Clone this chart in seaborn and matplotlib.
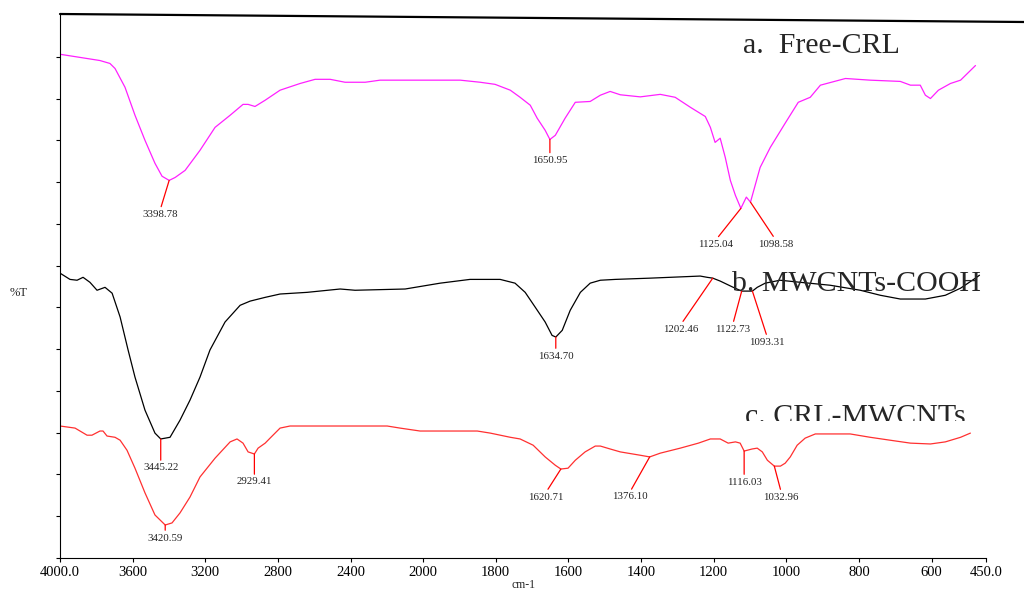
import numpy as np
import matplotlib
matplotlib.use("Agg")
import matplotlib.pyplot as plt
from matplotlib.lines import Line2D
from matplotlib.transforms import Bbox
import seaborn as sns

# a. Free-CRL  (wavenumber cm-1, %T)
wn_a = [4000, 3780, 3725, 3697, 3642, 3587, 3532, 3477, 3438, 3398.78,
        3366, 3311, 3229, 3146, 3063, 2992, 2964, 2926, 2870, 2788,
        2678, 2595, 2512, 2430, 2319, 2237, 2127, 1898, 1843, 1802,
        1760, 1733, 1705, 1686, 1664, 1650.95, 1636, 1609, 1581, 1540,
        1512, 1485, 1457, 1402, 1347, 1306, 1264, 1223, 1209, 1196,
        1182, 1168, 1154, 1140, 1125.04, 1110, 1098.58, 1072, 1044, 1003,
        967, 934, 906, 837, 769, 686, 658, 631, 617, 603,
        581, 548, 520, 479]
t_a = [120.6, 119.1, 118.4, 117.2, 112.7, 106.0, 100.0, 94.5, 91.4, 90.4,
       91.1, 92.8, 97.6, 103.1, 106.0, 108.6, 108.6, 108.1, 109.6, 112.0,
       113.6, 114.6, 114.6, 113.9, 113.9, 114.4, 114.4, 114.4, 113.9, 113.4,
       112.0, 110.3, 108.4, 105.3, 102.4, 100.2, 101.2, 105.3, 109.1, 109.3,
       110.8, 111.7, 110.9, 110.4, 111.0, 110.3, 107.9, 105.7, 103.1, 99.5,
       100.5, 95.9, 90.4, 86.8, 83.7, 86.4, 85.2, 93.5, 98.3, 104.1,
       109.1, 110.3, 113.2, 114.8, 114.4, 114.1, 113.2, 113.2, 110.8, 110.0,
       112.0, 113.6, 114.4, 117.9]
peaks_a = [3398.78, 1650.95, 1125.04, 1098.58]

# b. MWCNTs-COOH
wn_b = [4000, 3945, 3906, 3873, 3835, 3796, 3752, 3713, 3669, 3625,
        3587, 3532, 3477, 3445.22, 3394, 3339, 3284, 3229, 3174, 3091,
        3008, 2953, 2870, 2788, 2639, 2457, 2375, 2099, 2044, 1953,
        1871, 1788, 1747, 1719, 1691, 1664, 1645, 1634.70, 1617, 1595,
        1567, 1540, 1512, 1471, 1375, 1237, 1218, 1202.46, 1182, 1146,
        1122.73, 1093.31, 1080, 1058, 1017, 961, 879, 796, 741, 686,
        617, 562, 520, 479, 468]
t_b = [68.2, 66.7, 66.5, 67.2, 66.0, 64.1, 64.8, 63.4, 57.7, 49.8,
       43.3, 35.4, 29.9, 28.5, 28.9, 33.0, 37.8, 43.3, 49.8, 56.5,
       60.5, 61.5, 62.4, 63.2, 63.6, 64.4, 64.1, 64.4, 64.8, 65.8,
       66.7, 66.7, 65.8, 63.6, 60.0, 56.5, 53.3, 52.9, 54.5, 59.3,
       63.6, 65.8, 66.5, 66.7, 67.0, 67.5, 67.2, 67.0, 66.3, 64.8,
       63.9, 63.9, 64.8, 65.8, 66.5, 66.0, 65.3, 64.1, 62.9, 62.0,
       62.0, 62.9, 64.6, 67.0, 67.7]
peaks_b = [3445.22, 1634.70, 1202.46, 1122.73, 1093.31]

# c. CRL-MWCNTs
wn_c = [4000, 3917, 3851, 3824, 3780, 3763, 3741, 3697, 3669, 3631,
        3587, 3532, 3477, 3420.59, 3383, 3339, 3284, 3229, 3146, 3063,
        3025, 2992, 2964, 2929.41, 2909, 2870, 2843, 2788, 2733, 2198,
        2127, 2017, 1851, 1815, 1760, 1733, 1697, 1664, 1636, 1620.71,
        1601, 1581, 1554, 1526, 1512, 1485, 1457, 1402, 1376.10, 1347,
        1292, 1242, 1209, 1182, 1160, 1140, 1127, 1116.03, 1094, 1080,
        1066, 1052, 1032.96, 1016, 1003, 989, 970, 948, 920, 879,
        824, 769, 714, 658, 603, 562, 520, 493]
t_c = [31.6, 31.1, 29.4, 29.4, 30.4, 30.4, 29.2, 28.9, 28.2, 25.8,
       21.5, 15.6, 10.3, 7.9, 8.4, 10.8, 14.6, 19.4, 23.9, 27.8,
       28.5, 27.5, 25.4, 24.9, 26.3, 27.5, 28.7, 31.1, 31.6, 31.6,
       31.1, 30.4, 30.4, 29.9, 28.9, 28.5, 27.0, 24.2, 22.2, 21.3,
       21.5, 23.4, 25.4, 26.8, 26.8, 26.1, 25.4, 24.6, 24.2, 25.1,
       26.3, 27.5, 28.5, 28.5, 27.5, 27.8, 27.5, 25.6, 26.1, 26.3,
       25.4, 23.4, 22.0, 22.0, 22.7, 24.2, 27.0, 28.7, 29.7, 29.7,
       29.7, 28.9, 28.2, 27.5, 27.3, 27.8, 28.9, 29.9]
peaks_c = [3420.59, 2929.41, 1620.71, 1376.10, 1116.03, 1032.96]

xticks = [4000, 3600, 3200, 2800, 2400, 2000, 1800, 1600, 1400, 1200, 1000, 800, 600, 450]
xtick_labels = ["4000.0", "3600", "3200", "2800", "2400", "2000", "1800", "1600",
                "1400", "1200", "1000", "800", "600", "450.0"]

# label placement (pixel offsets of label centre from the peak)
offs_a = [(-9, -34), (0, -21), (-25, -36), (25, -42)]
offs_b = [(0, -29), (0, -19), (-32, -51), (-9, -38), (15, -51)]
offs_c = [(0, -13), (0, -28), (-15, -28), (-20, -40), (0, -31), (7, -31)]

sns.set_theme(style="ticks")
plt.rcParams["font.family"] = ["Liberation Serif", "DejaVu Serif"]


# FTIR axis: 400 cm-1 per division above 2000, 200 below
def fwd(x):
    x = np.asarray(x, dtype=float)
    return np.where(x >= 2000, 5 + (x - 2000) / 400, x / 200 - 5)


def inv(u):
    u = np.asarray(u, dtype=float)
    return np.where(u >= 5, 2000 + (u - 5) * 400, (u + 5) * 200)


fig = plt.figure(figsize=(10.24, 5.92), dpi=100)
ax = fig.add_axes([60 / 1024, 1 - 558 / 592, 926 / 1024, 543 / 592])
ax.set_xscale("function", functions=(fwd, inv))

fig.text(743 / 1024, 1 - 53 / 592, "a.  Free-CRL", fontsize=21.5, va="baseline")
fig.text(732 / 1024, 1 - 291 / 592, "b. MWCNTs-COOH", fontsize=21.5, va="baseline")
tc = fig.text(745 / 1024, 1 - 424 / 592, "c. CRL-MWCNTs", fontsize=21.5, va="baseline")
tc.set_clip_box(Bbox([[0, 592 - 421], [1024, 592]]))
tc.set_clip_on(True)

series = [(wn_a, t_a, peaks_a, offs_a, "#ff20ff"),
          (wn_b, t_b, peaks_b, offs_b, "black"),
          (wn_c, t_c, peaks_c, offs_c, "#ff3030")]

for wn, t, peaks, offs, col in series:
    sns.lineplot(x=wn, y=t, ax=ax, color=col, lw=0.9, estimator=None, sort=False)
    for p, (dx, dy) in zip(peaks, offs):
        y = np.interp(p, wn[::-1], t[::-1])
        ax.annotate(f"{p:.2f}", xy=(p, y), xytext=(dx, dy), textcoords="offset pixels",
                    ha="center", va="center", fontsize=7.8, color="#222222",
                    arrowprops=dict(arrowstyle="-", color="red", lw=0.9,
                                    shrinkA=0, shrinkB=0, relpos=(0.5, 1)))

ax.set_xlim(4000, 450)
ax.set_ylim(0, 130)
ax.set_xticks(xticks)
ax.set_xticklabels(xtick_labels)
ax.set_yticks(np.arange(0, 121, 10))
ax.set_yticklabels([])
ax.tick_params(direction="out", length=3, width=0.8, color="black",
               labelsize=10.5, pad=3, labelcolor="black")
ax.spines[["top", "right"]].set_visible(False)
for s in ["left", "bottom"]:
    ax.spines[s].set_color("black")
    ax.spines[s].set_linewidth(0.8)
ax.set_xlabel("cm-1", fontsize=8.5, labelpad=0)
ax.set_ylabel("")
fig.text(19 / 1024, 1 - 293 / 592, "%T", fontsize=9, ha="center", va="center")

fig.add_artist(Line2D([60 / 1024, 1.0], [1 - 14 / 592, 1 - 22 / 592], color="black", lw=1.6))

fig.savefig("out.png", dpi=100)
